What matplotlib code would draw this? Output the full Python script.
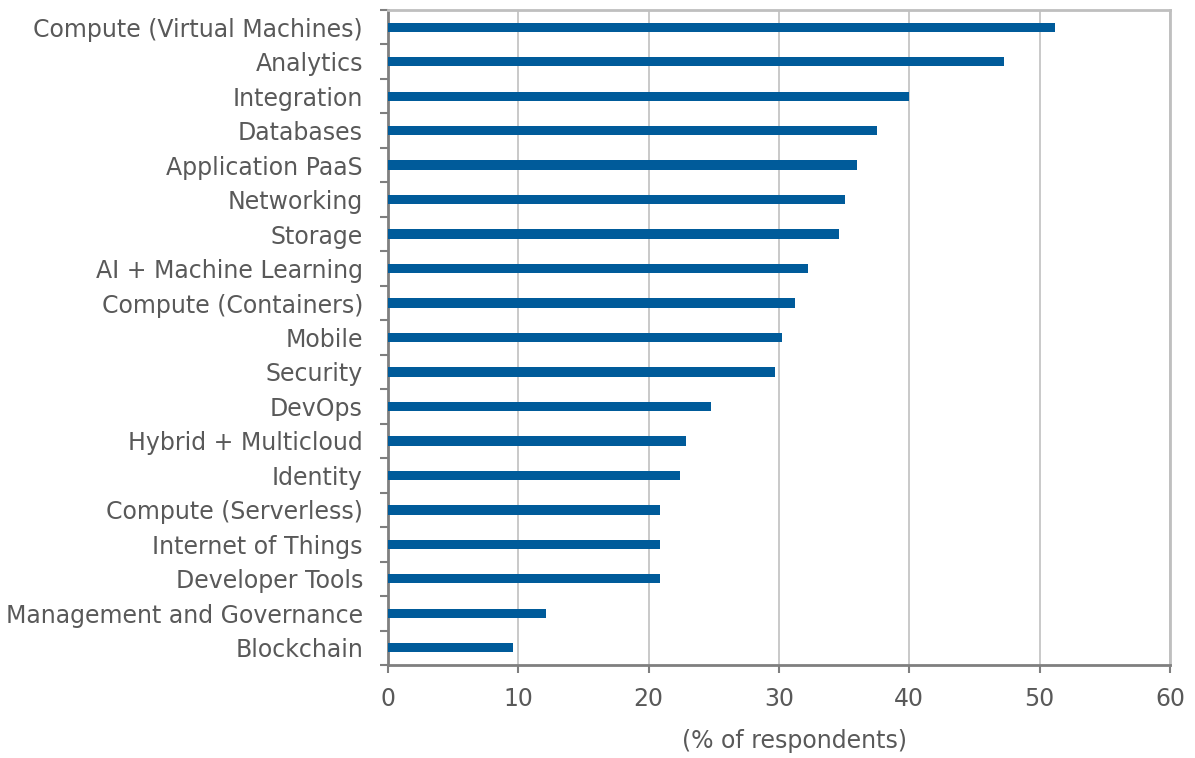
import matplotlib
matplotlib.use("Agg")
import matplotlib.pyplot as plt
import numpy as np

# Cloud service categories in use (% of respondents)
categories = [
    "Compute (Virtual Machines)", "Analytics", "Integration", "Databases",
    "Application PaaS", "Networking", "Storage", "AI + Machine Learning",
    "Compute (Containers)", "Mobile", "Security", "DevOps",
    "Hybrid + Multicloud", "Identity", "Compute (Serverless)",
    "Internet of Things", "Developer Tools", "Management and Governance",
    "Blockchain",
]
values = [51.2, 47.3, 40.0, 37.5, 36.0, 35.1, 34.6, 32.2, 31.2, 30.2,
          29.7, 24.8, 22.9, 22.4, 20.9, 20.9, 20.9, 12.1, 9.6]
xticks = [0, 10, 20, 30, 40, 50, 60]

text_col = "#595959"
fs = 17
plt.rcParams["font.family"] = ["DejaVu Sans"]

fig = plt.figure(figsize=(11.95, 7.58), dpi=100)
ax = fig.add_axes([388 / 1195, 1 - 665 / 758, (1170 - 388) / 1195, (665 - 10) / 758])

y = np.arange(len(categories))
ax.barh(y, values, height=0.27, color="#005b9a", zorder=3)

ax.set_xlim(0, 60)
ax.set_ylim(len(categories) - 0.5, -0.5)
ax.set_xticks(xticks)
ax.set_xticklabels([str(t) for t in xticks], fontsize=fs, color=text_col)
ax.set_yticks(y)
ax.set_yticklabels(categories, fontsize=fs, color=text_col)
# tick marks sit between the categories
ax.set_yticks(np.arange(len(categories) + 1) - 0.5, minor=True)
ax.tick_params(axis="y", which="major", length=0, pad=18)
ax.tick_params(axis="y", which="minor", length=6, width=1.5, color="#7f7f7f")
ax.tick_params(axis="x", length=6, width=1.5, color="#7f7f7f", pad=10)

ax.grid(axis="x", color="#c0c0c0", linewidth=1.2, zorder=0)
for side in ("left", "bottom"):
    ax.spines[side].set_color("#7f7f7f")
    ax.spines[side].set_linewidth(2)
for side in ("top", "right"):
    ax.spines[side].set_color("#bfbfbf")
    ax.spines[side].set_linewidth(2)

ax.set_xlabel("(% of respondents)", fontsize=fs, color=text_col)
ax.xaxis.set_label_coords(0.52, -0.097)

fig.savefig("out.png", dpi=100)
